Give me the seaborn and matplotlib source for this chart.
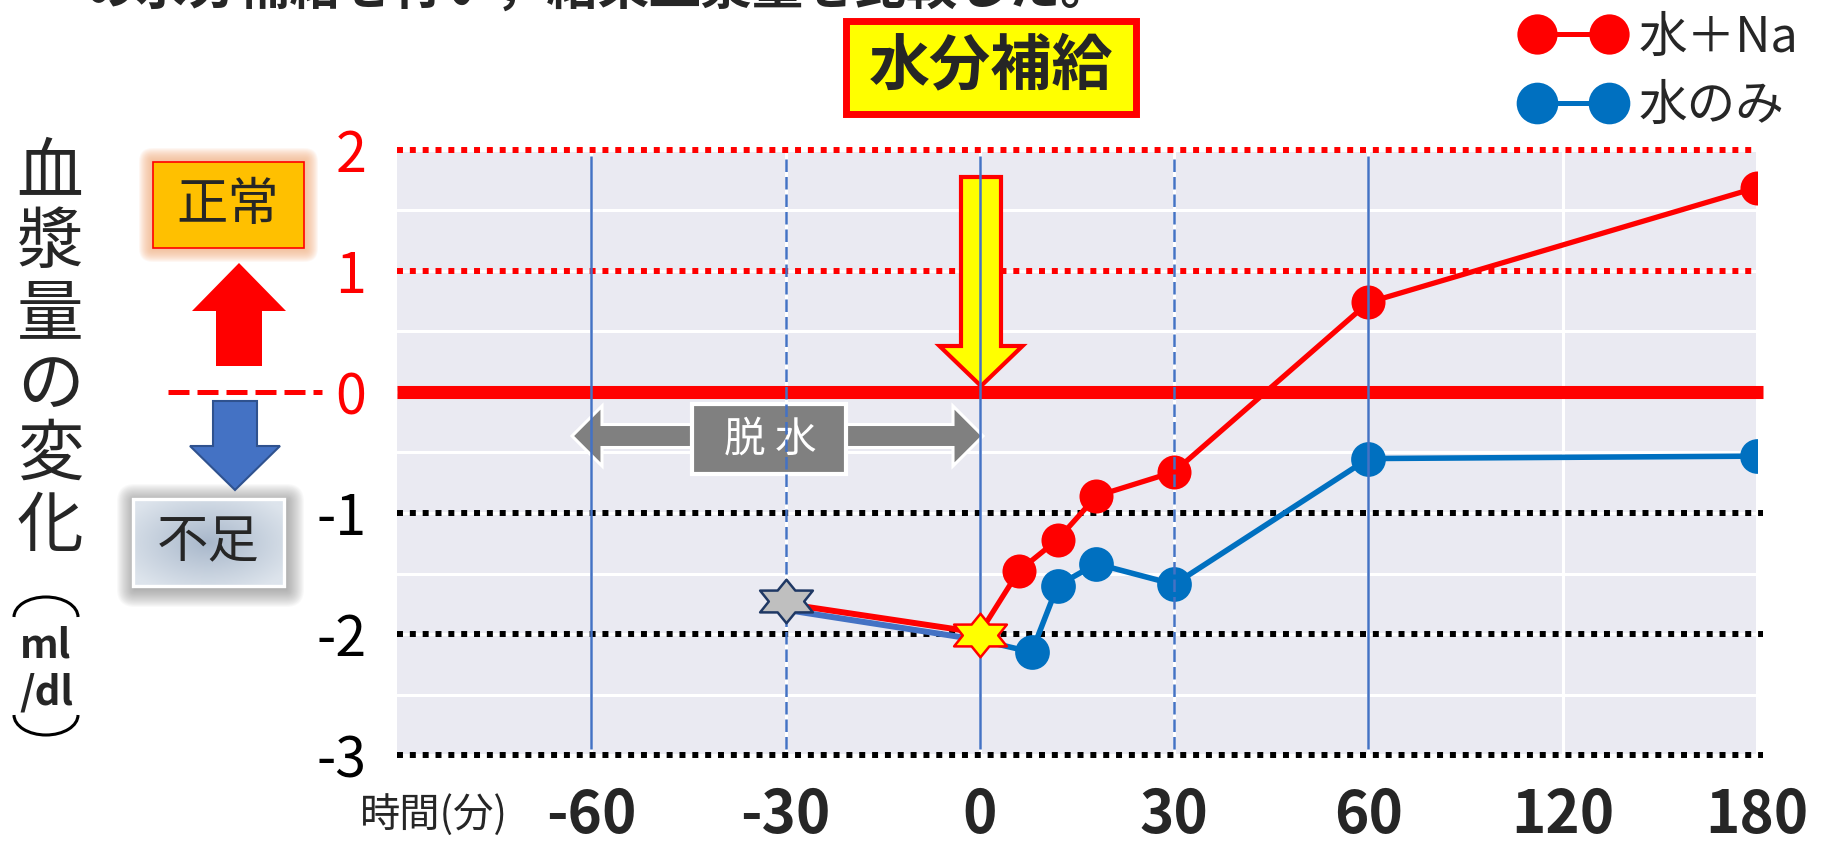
import numpy as np
import pandas as pd
import matplotlib
matplotlib.use("Agg")
import matplotlib.pyplot as plt
import matplotlib.patches as mpatches
import matplotlib.transforms as mtransforms
from matplotlib.colors import LinearSegmentedColormap
from matplotlib.lines import Line2D
from matplotlib.path import Path
import seaborn as sns

# ---------------- data ----------------
time_ticks = [-60, -30, 0, 30, 60, 120, 180]
time_tick_labels = ["-60", "-30", "0", "30", "60", "120", "180"]
level_ticks = [2, 1, 0, -1, -2, -3]
level_tick_labels = ["2", "1", "0", "-1", "-2", "-3"]

series_labels = ["水＋Na", "水のみ"]
time_na = [-30, 0, 6, 12, 18, 30, 60, 180]
plasma_na = [-1.75, -1.99, -1.48, -1.22, -0.86, -0.66, 0.74, 1.69]
time_water = [-30, 0, 8, 12, 18, 30, 60, 180]
plasma_water = [-1.80, -2.05, -2.15, -1.60, -1.42, -1.59, -0.55, -0.53]

start_time = [-30]
start_value = [-1.73]
intake_time = [0]
intake_value = [-2.01]

solid_guides = [-60, 0, 60]
dashed_guides = [-30, 30]
upper_levels = [2, 1]
lower_levels = [-1, -2, -3]
baseline_level = [0]

# ---------------- style ----------------
RED = "#FF0000"
BLUE = "#0070C0"
GUIDE = "#4472C4"

W, H = 1822, 848
sns.set_theme(style="darkgrid")
plt.rcParams["font.family"] = ["Noto Sans CJK JP", "DejaVu Sans"]
plt.rcParams["axes.unicode_minus"] = False

fig = plt.figure(figsize=(W / 100, H / 100), dpi=100)
fig.patch.set_facecolor("white")
ax = fig.add_axes([397 / W, 1 - 755 / H, 1360 / W, 605 / H])

# figure pixel coordinates (origin top-left)
px = mtransforms.Affine2D().scale(1 / W, -1 / H).translate(0, 1) + fig.transFigure

na_df = pd.DataFrame({"time": time_na, "value": plasma_na})
water_df = pd.DataFrame({"time": time_water, "value": plasma_water})

# dehydration phase (-30 -> 0)
sns.lineplot(data=na_df.iloc[:2], x="time", y="value", color=RED, lw=4.3,
             estimator=None, sort=False, ax=ax, zorder=3.0)
sns.lineplot(data=water_df.iloc[:2], x="time", y="value", color=GUIDE, lw=4.3,
             estimator=None, sort=False, ax=ax, zorder=3.1)

# rehydration phase
n_after = len(time_water) - 1
sns.lineplot(data=water_df.iloc[1:], x="time", y="value", color=BLUE, lw=4.0,
             marker="o", ms=25, mew=0, markevery=list(range(1, n_after)),
             estimator=None, sort=False, ax=ax, zorder=3.2)
sns.lineplot(data=na_df.iloc[1:], x="time", y="value", color=RED, lw=3.8,
             marker="o", ms=24.5, mew=0, markevery=list(range(1, n_after)),
             estimator=None, sort=False, ax=ax, zorder=3.3)

# six-pointed star markers, slightly wide
star = Path.unit_regular_star(6, 0.58)
star_marker = Path(star.vertices * np.array([1.4, 1.0]), star.codes)
sns.scatterplot(x=start_time, y=start_value, marker=star_marker, s=38 ** 2,
                color="#BFBFBF", edgecolor="#1F3864", linewidth=1.8, ax=ax, zorder=6)
sns.scatterplot(x=intake_time, y=intake_value, marker=star_marker, s=38 ** 2,
                color="#FFFF00", edgecolor=RED, linewidth=1.8, ax=ax, zorder=6)

# reference levels
ax.hlines(upper_levels, -90, 180, colors=RED, lw=4.3, linestyles=(0, (1, 1.15)),
          zorder=2.5, clip_on=False)
ax.hlines(lower_levels, -90, 182, colors="black", lw=4.3, linestyles=(0, (1, 1.15)),
          zorder=2.5, clip_on=False)
ax.hlines(baseline_level, -90, 182, colors=RED, lw=9.4, zorder=2.6, clip_on=False)

# time guides
ax.vlines(solid_guides, -2.95, 1.95, colors=GUIDE, lw=1.8, zorder=4)
ax.vlines(dashed_guides, -2.95, 1.95, colors=GUIDE, lw=1.8,
          linestyles=(0, (5, 2)), zorder=4)


# axis: equal spacing up to 60 min, then 60-min steps
def to_axis(t):
    t = np.asarray(t, float)
    return np.where(t <= 60, (t + 90) / 30, 5 + (t - 60) / 60)


def from_axis(u):
    u = np.asarray(u, float)
    return np.where(u <= 5, u * 30 - 90, 60 + (u - 5) * 60)


ax.set_xscale("function", functions=(to_axis, from_axis))
ax.set_xlim(-90, 180)
ax.set_ylim(-3, 2)
ax.set_xticks(time_ticks, labels=time_tick_labels, fontsize=42, fontweight="bold")
ax.set_xticks([], minor=True)
ax.set_yticks(level_ticks, labels=level_tick_labels, fontsize=40)
ax.set_yticks(np.arange(-2.5, 2.0, 1.0), minor=True)
for lbl in ax.get_yticklabels():
    lbl.set_color(RED if lbl.get_text() in ("2", "1", "0") else "black")
ax.tick_params(axis="x", which="both", length=0, pad=22)
ax.tick_params(axis="y", which="both", length=0, pad=22)
ax.grid(which="major", color="white", lw=2.2)
ax.grid(which="minor", axis="y", color="white", lw=2.2)
ax.set_xlabel("")
ax.set_ylabel("")
for sp in ax.spines.values():
    sp.set_visible(False)

# ---- annotations inside the plot ----
# rehydration arrow
ax.add_patch(mpatches.FancyArrow(981, 177, 0, 386 - 177, width=40, head_width=83,
                                 head_length=40, length_includes_head=True,
                                 fc="#FFFF00", ec=RED, lw=3, transform=px,
                                 clip_on=False, zorder=3.5))
# dehydration double arrow
for tip in (572, 983):
    ax.add_patch(mpatches.FancyArrow(770, 436, tip - 770, 0, width=23, head_width=60,
                                     head_length=30, length_includes_head=True,
                                     fc="#808080", ec="white", lw=2.2, transform=px,
                                     clip_on=False, zorder=3.5))
ax.add_patch(mpatches.Rectangle((692, 404), 154, 70, fc="#808080", ec="white", lw=3,
                                transform=px, clip_on=False, zorder=3.6))
ax.text(770, 440, "脱 水", transform=px, ha="center", va="center", fontsize=30,
        color="white", zorder=3.7)

# ---- left side decorations ----
# y label
for i, ch in enumerate("血漿量の変化"):
    fig.text(50 / W, 1 - (174 + 70.6 * i) / H, ch, fontsize=48, ha="center", va="center")
fig.add_artist(mpatches.Arc((46, 617), 64, 40, theta1=180, theta2=360, lw=2.2,
                            color="black", transform=px))
fig.add_artist(mpatches.Arc((46, 715), 64, 40, theta1=0, theta2=180, lw=2.2,
                            color="black", transform=px))
fig.text(46 / W, 1 - 646 / H, "ml", fontsize=29, fontweight="bold", ha="center", va="center")
fig.text(46 / W, 1 - 693 / H, "/dl", fontsize=29, fontweight="bold", ha="center", va="center")

# normal box with glow
nx, ny, nw, nh = 153, 162, 151, 86
for k in range(14, 0, -1):
    fig.add_artist(mpatches.FancyBboxPatch((nx - k, ny - k), nw + 2 * k, nh + 2 * k,
                                           boxstyle=f"round,pad=0,rounding_size={k}",
                                           fc="#F4B183", ec="none", alpha=0.09,
                                           transform=px, zorder=-1))
fig.add_artist(mpatches.Rectangle((nx, ny), nw, nh, fc="#FFC000", ec=RED, lw=1.2,
                                  transform=px, zorder=1))
fig.text(228 / W, 1 - 205 / H, "正常", fontsize=37, ha="center", va="center", zorder=3)

# up / down arrows
fig.add_artist(mpatches.FancyArrow(239, 366, 0, 263 - 366, width=46, head_width=94,
                                   head_length=48, length_includes_head=True,
                                   fc=RED, ec="none", transform=px, zorder=1))
fig.add_artist(mpatches.FancyArrow(235, 401, 0, 89, width=44, head_width=90,
                                   head_length=44, length_includes_head=True,
                                   fc=GUIDE, ec="#2F528F", lw=1.5, transform=px, zorder=1))
blend = mtransforms.blended_transform_factory(
    mtransforms.Affine2D().scale(1 / W, 1) + fig.transFigure, ax.transData)
fig.add_artist(Line2D([168, 322], [0, 0], color=RED, lw=3.6, dashes=(4.2, 1.6),
                      transform=blend, zorder=1))

# shortage box with shadow and soft gradient
sx, sy, sw, sh = 133, 499, 151, 87
for k in range(18, 0, -1):
    fig.add_artist(mpatches.FancyBboxPatch((sx - k + 2, sy - k + 3), sw + 2 * k, sh + 2 * k,
                                           boxstyle=f"round,pad=0,rounding_size={k}",
                                           fc="#7F7F7F", ec="none", alpha=0.045,
                                           transform=px, zorder=-1))
grad_ax = fig.add_axes([sx / W, 1 - (sy + sh) / H, sw / W, sh / H], zorder=0.5)
yy, xx = np.mgrid[-1:1:60j, -1:1:100j]
rr = np.clip(np.sqrt(xx ** 2 + yy ** 2) / 1.25, 0, 1)
grad_ax.imshow(rr, cmap=LinearSegmentedColormap.from_list("steel", ["#A9B8CB", "#DDE4EC"]),
               aspect="auto", interpolation="bilinear")
grad_ax.axis("off")
fig.add_artist(mpatches.Rectangle((sx, sy), sw, sh, fc="none", ec="white", lw=2.4,
                                  transform=px, zorder=1))
fig.text(208 / W, 1 - 543 / H, "不足", fontsize=37, ha="center", va="center", zorder=3)

# x axis caption
fig.text(360 / W, 1 - 815 / H, "時間(分)", fontsize=29, ha="left", va="center")

# ---- top ----
fig.text(85 / W, 1 - 5 / H, "の水分補給を行い，結果血漿量を比較した。", fontsize=37,
         fontweight="bold", ha="left", va="baseline")
fig.add_artist(mpatches.Rectangle((846, 21), 290, 93, fc="#FFFF00", ec=RED, lw=5,
                                  transform=px, zorder=1))
fig.text(991 / W, 1 - 67 / H, "水分補給", fontsize=44, fontweight="bold",
         ha="center", va="center", zorder=3)

# legend
handles = [Line2D([], [], color=RED, lw=3.6, marker="o", ms=29, mew=0),
           Line2D([], [], color=BLUE, lw=3.6, marker="o", ms=30, mew=0)]
fig.legend(handles, series_labels, loc="upper left", bbox_to_anchor=(1522 / W, 1 - 13 / H),
           numpoints=2, frameon=False, fontsize=35, handlelength=2.08,
           handletextpad=0.31, labelspacing=0.4, borderpad=0, borderaxespad=0)

fig.savefig("out.png", dpi=100, facecolor="white")
